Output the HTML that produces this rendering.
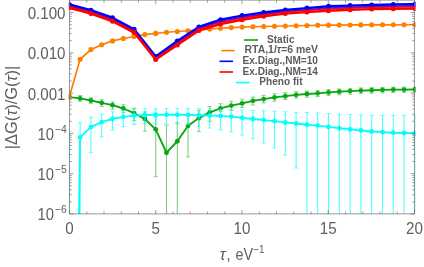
<!DOCTYPE html>
<html><head><meta charset="utf-8"><title>plot</title><style>html,body{margin:0;padding:0;background:#fff}svg{display:block}</style></head><body>
<svg width="424" height="267" viewBox="0 0 424 267">
<rect width="424" height="267" fill="#fff"/>
<defs><clipPath id="c"><rect x="68.8" y="0" width="346.8" height="213.9"/></clipPath></defs>
<g clip-path="url(#c)"><g>
<line x1="80.10" y1="95.55" x2="80.10" y2="101.30" stroke="rgba(8,168,18,0.55)" stroke-width="1.05"/>
<line x1="77.90" y1="95.55" x2="82.30" y2="95.55" stroke="rgba(8,168,18,0.55)" stroke-width="0.8"/>
<line x1="77.90" y1="101.30" x2="82.30" y2="101.30" stroke="rgba(8,168,18,0.55)" stroke-width="0.8"/>
<line x1="90.90" y1="97.80" x2="90.90" y2="103.70" stroke="rgba(8,168,18,0.55)" stroke-width="1.05"/>
<line x1="88.70" y1="97.80" x2="93.10" y2="97.80" stroke="rgba(8,168,18,0.55)" stroke-width="0.8"/>
<line x1="88.70" y1="103.70" x2="93.10" y2="103.70" stroke="rgba(8,168,18,0.55)" stroke-width="0.8"/>
<line x1="101.70" y1="99.70" x2="101.70" y2="106.55" stroke="rgba(8,168,18,0.55)" stroke-width="1.05"/>
<line x1="99.50" y1="99.70" x2="103.90" y2="99.70" stroke="rgba(8,168,18,0.55)" stroke-width="0.8"/>
<line x1="99.50" y1="106.55" x2="103.90" y2="106.55" stroke="rgba(8,168,18,0.55)" stroke-width="0.8"/>
<line x1="112.50" y1="101.80" x2="112.50" y2="109.30" stroke="rgba(8,168,18,0.55)" stroke-width="1.05"/>
<line x1="110.30" y1="101.80" x2="114.70" y2="101.80" stroke="rgba(8,168,18,0.55)" stroke-width="0.8"/>
<line x1="110.30" y1="109.30" x2="114.70" y2="109.30" stroke="rgba(8,168,18,0.55)" stroke-width="0.8"/>
<line x1="123.30" y1="104.75" x2="123.30" y2="112.75" stroke="rgba(8,168,18,0.55)" stroke-width="1.05"/>
<line x1="121.10" y1="104.75" x2="125.50" y2="104.75" stroke="rgba(8,168,18,0.55)" stroke-width="0.8"/>
<line x1="121.10" y1="112.75" x2="125.50" y2="112.75" stroke="rgba(8,168,18,0.55)" stroke-width="0.8"/>
<line x1="134.10" y1="108.10" x2="134.10" y2="120.60" stroke="rgba(8,168,18,0.55)" stroke-width="1.05"/>
<line x1="131.90" y1="108.10" x2="136.30" y2="108.10" stroke="rgba(8,168,18,0.55)" stroke-width="0.8"/>
<line x1="131.90" y1="120.60" x2="136.30" y2="120.60" stroke="rgba(8,168,18,0.55)" stroke-width="0.8"/>
<line x1="144.90" y1="111.90" x2="144.90" y2="131.25" stroke="rgba(8,168,18,0.55)" stroke-width="1.05"/>
<line x1="142.70" y1="111.90" x2="147.10" y2="111.90" stroke="rgba(8,168,18,0.55)" stroke-width="0.8"/>
<line x1="142.70" y1="131.25" x2="147.10" y2="131.25" stroke="rgba(8,168,18,0.55)" stroke-width="0.8"/>
<line x1="155.70" y1="116.90" x2="155.70" y2="176.75" stroke="rgba(8,168,18,0.55)" stroke-width="1.05"/>
<line x1="153.50" y1="116.90" x2="157.90" y2="116.90" stroke="rgba(8,168,18,0.55)" stroke-width="0.8"/>
<line x1="153.50" y1="176.75" x2="157.90" y2="176.75" stroke="rgba(8,168,18,0.55)" stroke-width="0.8"/>
<line x1="166.50" y1="125.20" x2="166.50" y2="215.90" stroke="rgba(8,168,18,0.55)" stroke-width="1.05"/>
<line x1="164.30" y1="125.20" x2="168.70" y2="125.20" stroke="rgba(8,168,18,0.55)" stroke-width="0.8"/>
<line x1="177.30" y1="122.50" x2="177.30" y2="215.90" stroke="rgba(8,168,18,0.55)" stroke-width="1.05"/>
<line x1="175.10" y1="122.50" x2="179.50" y2="122.50" stroke="rgba(8,168,18,0.55)" stroke-width="0.8"/>
<line x1="188.10" y1="115.20" x2="188.10" y2="157.00" stroke="rgba(8,168,18,0.55)" stroke-width="1.05"/>
<line x1="185.90" y1="115.20" x2="190.30" y2="115.20" stroke="rgba(8,168,18,0.55)" stroke-width="0.8"/>
<line x1="185.90" y1="157.00" x2="190.30" y2="157.00" stroke="rgba(8,168,18,0.55)" stroke-width="0.8"/>
<line x1="198.90" y1="110.60" x2="198.90" y2="131.60" stroke="rgba(8,168,18,0.55)" stroke-width="1.05"/>
<line x1="196.70" y1="110.60" x2="201.10" y2="110.60" stroke="rgba(8,168,18,0.55)" stroke-width="0.8"/>
<line x1="196.70" y1="131.60" x2="201.10" y2="131.60" stroke="rgba(8,168,18,0.55)" stroke-width="0.8"/>
<line x1="209.70" y1="106.50" x2="209.70" y2="121.30" stroke="rgba(8,168,18,0.55)" stroke-width="1.05"/>
<line x1="207.50" y1="106.50" x2="211.90" y2="106.50" stroke="rgba(8,168,18,0.55)" stroke-width="0.8"/>
<line x1="207.50" y1="121.30" x2="211.90" y2="121.30" stroke="rgba(8,168,18,0.55)" stroke-width="0.8"/>
<line x1="220.50" y1="103.70" x2="220.50" y2="111.60" stroke="rgba(8,168,18,0.55)" stroke-width="1.05"/>
<line x1="218.30" y1="103.70" x2="222.70" y2="103.70" stroke="rgba(8,168,18,0.55)" stroke-width="0.8"/>
<line x1="218.30" y1="111.60" x2="222.70" y2="111.60" stroke="rgba(8,168,18,0.55)" stroke-width="0.8"/>
<line x1="231.30" y1="101.20" x2="231.30" y2="109.90" stroke="rgba(8,168,18,0.55)" stroke-width="1.05"/>
<line x1="229.10" y1="101.20" x2="233.50" y2="101.20" stroke="rgba(8,168,18,0.55)" stroke-width="0.8"/>
<line x1="229.10" y1="109.90" x2="233.50" y2="109.90" stroke="rgba(8,168,18,0.55)" stroke-width="0.8"/>
<line x1="242.10" y1="99.20" x2="242.10" y2="107.50" stroke="rgba(8,168,18,0.55)" stroke-width="1.05"/>
<line x1="239.90" y1="99.20" x2="244.30" y2="99.20" stroke="rgba(8,168,18,0.55)" stroke-width="0.8"/>
<line x1="239.90" y1="107.50" x2="244.30" y2="107.50" stroke="rgba(8,168,18,0.55)" stroke-width="0.8"/>
<line x1="252.90" y1="96.90" x2="252.90" y2="105.10" stroke="rgba(8,168,18,0.55)" stroke-width="1.05"/>
<line x1="250.70" y1="96.90" x2="255.10" y2="96.90" stroke="rgba(8,168,18,0.55)" stroke-width="0.8"/>
<line x1="250.70" y1="105.10" x2="255.10" y2="105.10" stroke="rgba(8,168,18,0.55)" stroke-width="0.8"/>
<line x1="263.70" y1="95.40" x2="263.70" y2="102.90" stroke="rgba(8,168,18,0.55)" stroke-width="1.05"/>
<line x1="261.50" y1="95.40" x2="265.90" y2="95.40" stroke="rgba(8,168,18,0.55)" stroke-width="0.8"/>
<line x1="261.50" y1="102.90" x2="265.90" y2="102.90" stroke="rgba(8,168,18,0.55)" stroke-width="0.8"/>
<line x1="274.50" y1="93.70" x2="274.50" y2="101.20" stroke="rgba(8,168,18,0.55)" stroke-width="1.05"/>
<line x1="272.30" y1="93.70" x2="276.70" y2="93.70" stroke="rgba(8,168,18,0.55)" stroke-width="0.8"/>
<line x1="272.30" y1="101.20" x2="276.70" y2="101.20" stroke="rgba(8,168,18,0.55)" stroke-width="0.8"/>
<line x1="285.30" y1="92.70" x2="285.30" y2="99.60" stroke="rgba(8,168,18,0.55)" stroke-width="1.05"/>
<line x1="283.10" y1="92.70" x2="287.50" y2="92.70" stroke="rgba(8,168,18,0.55)" stroke-width="0.8"/>
<line x1="283.10" y1="99.60" x2="287.50" y2="99.60" stroke="rgba(8,168,18,0.55)" stroke-width="0.8"/>
<line x1="296.10" y1="91.60" x2="296.10" y2="98.20" stroke="rgba(8,168,18,0.55)" stroke-width="1.05"/>
<line x1="293.90" y1="91.60" x2="298.30" y2="91.60" stroke="rgba(8,168,18,0.55)" stroke-width="0.8"/>
<line x1="293.90" y1="98.20" x2="298.30" y2="98.20" stroke="rgba(8,168,18,0.55)" stroke-width="0.8"/>
<line x1="306.90" y1="91.10" x2="306.90" y2="97.30" stroke="rgba(8,168,18,0.55)" stroke-width="1.05"/>
<line x1="304.70" y1="91.10" x2="309.10" y2="91.10" stroke="rgba(8,168,18,0.55)" stroke-width="0.8"/>
<line x1="304.70" y1="97.30" x2="309.10" y2="97.30" stroke="rgba(8,168,18,0.55)" stroke-width="0.8"/>
<line x1="317.70" y1="90.44" x2="317.70" y2="96.55" stroke="rgba(8,168,18,0.55)" stroke-width="1.05"/>
<line x1="315.50" y1="90.44" x2="319.90" y2="90.44" stroke="rgba(8,168,18,0.55)" stroke-width="0.8"/>
<line x1="315.50" y1="96.55" x2="319.90" y2="96.55" stroke="rgba(8,168,18,0.55)" stroke-width="0.8"/>
<line x1="328.50" y1="89.58" x2="328.50" y2="95.60" stroke="rgba(8,168,18,0.55)" stroke-width="1.05"/>
<line x1="326.30" y1="89.58" x2="330.70" y2="89.58" stroke="rgba(8,168,18,0.55)" stroke-width="0.8"/>
<line x1="326.30" y1="95.60" x2="330.70" y2="95.60" stroke="rgba(8,168,18,0.55)" stroke-width="0.8"/>
<line x1="339.30" y1="88.92" x2="339.30" y2="94.85" stroke="rgba(8,168,18,0.55)" stroke-width="1.05"/>
<line x1="337.10" y1="88.92" x2="341.50" y2="88.92" stroke="rgba(8,168,18,0.55)" stroke-width="0.8"/>
<line x1="337.10" y1="94.85" x2="341.50" y2="94.85" stroke="rgba(8,168,18,0.55)" stroke-width="0.8"/>
<line x1="350.10" y1="88.36" x2="350.10" y2="94.20" stroke="rgba(8,168,18,0.55)" stroke-width="1.05"/>
<line x1="347.90" y1="88.36" x2="352.30" y2="88.36" stroke="rgba(8,168,18,0.55)" stroke-width="0.8"/>
<line x1="347.90" y1="94.20" x2="352.30" y2="94.20" stroke="rgba(8,168,18,0.55)" stroke-width="0.8"/>
<line x1="360.90" y1="87.85" x2="360.90" y2="93.60" stroke="rgba(8,168,18,0.55)" stroke-width="1.05"/>
<line x1="358.70" y1="87.85" x2="363.10" y2="87.85" stroke="rgba(8,168,18,0.55)" stroke-width="0.8"/>
<line x1="358.70" y1="93.60" x2="363.10" y2="93.60" stroke="rgba(8,168,18,0.55)" stroke-width="0.8"/>
<line x1="371.70" y1="87.59" x2="371.70" y2="93.25" stroke="rgba(8,168,18,0.55)" stroke-width="1.05"/>
<line x1="369.50" y1="87.59" x2="373.90" y2="87.59" stroke="rgba(8,168,18,0.55)" stroke-width="0.8"/>
<line x1="369.50" y1="93.25" x2="373.90" y2="93.25" stroke="rgba(8,168,18,0.55)" stroke-width="0.8"/>
<line x1="382.50" y1="87.33" x2="382.50" y2="92.90" stroke="rgba(8,168,18,0.55)" stroke-width="1.05"/>
<line x1="380.30" y1="87.33" x2="384.70" y2="87.33" stroke="rgba(8,168,18,0.55)" stroke-width="0.8"/>
<line x1="380.30" y1="92.90" x2="384.70" y2="92.90" stroke="rgba(8,168,18,0.55)" stroke-width="0.8"/>
<line x1="393.30" y1="87.12" x2="393.30" y2="92.60" stroke="rgba(8,168,18,0.55)" stroke-width="1.05"/>
<line x1="391.10" y1="87.12" x2="395.50" y2="87.12" stroke="rgba(8,168,18,0.55)" stroke-width="0.8"/>
<line x1="391.10" y1="92.60" x2="395.50" y2="92.60" stroke="rgba(8,168,18,0.55)" stroke-width="0.8"/>
<line x1="404.10" y1="87.06" x2="404.10" y2="92.45" stroke="rgba(8,168,18,0.55)" stroke-width="1.05"/>
<line x1="401.90" y1="87.06" x2="406.30" y2="87.06" stroke="rgba(8,168,18,0.55)" stroke-width="0.8"/>
<line x1="401.90" y1="92.45" x2="406.30" y2="92.45" stroke="rgba(8,168,18,0.55)" stroke-width="0.8"/>
<line x1="414.90" y1="87.00" x2="414.90" y2="92.30" stroke="rgba(8,168,18,0.55)" stroke-width="1.05"/>
<line x1="412.70" y1="87.00" x2="417.10" y2="87.00" stroke="rgba(8,168,18,0.55)" stroke-width="0.8"/>
<line x1="412.70" y1="92.30" x2="417.10" y2="92.30" stroke="rgba(8,168,18,0.55)" stroke-width="0.8"/>
<polyline points="69.30,97.10 80.10,98.40 90.90,100.50 101.70,102.80 112.50,105.20 123.30,108.50 134.10,113.10 144.90,119.00 155.70,129.30 166.50,152.75 177.30,141.25 188.10,125.80 198.90,118.10 209.70,112.35 220.50,108.30 231.30,105.60 242.10,103.40 252.90,100.80 263.70,99.05 274.50,97.45 285.30,96.20 296.10,94.90 306.90,94.00 317.70,93.30 328.50,92.40 339.30,91.70 350.10,91.10 360.90,90.55 371.70,90.25 382.50,89.95 393.30,89.70 404.10,89.60 414.90,89.50" fill="none" stroke="#08a812" stroke-width="1.85" stroke-linejoin="round"/>
<circle cx="69.30" cy="97.10" r="2.4" fill="#08a812"/>
<circle cx="80.10" cy="98.40" r="2.4" fill="#08a812"/>
<circle cx="90.90" cy="100.50" r="2.4" fill="#08a812"/>
<circle cx="101.70" cy="102.80" r="2.4" fill="#08a812"/>
<circle cx="112.50" cy="105.20" r="2.4" fill="#08a812"/>
<circle cx="123.30" cy="108.50" r="2.4" fill="#08a812"/>
<circle cx="134.10" cy="113.10" r="2.4" fill="#08a812"/>
<circle cx="144.90" cy="119.00" r="2.4" fill="#08a812"/>
<circle cx="155.70" cy="129.30" r="2.4" fill="#08a812"/>
<circle cx="166.50" cy="152.75" r="2.4" fill="#08a812"/>
<circle cx="177.30" cy="141.25" r="2.4" fill="#08a812"/>
<circle cx="188.10" cy="125.80" r="2.4" fill="#08a812"/>
<circle cx="198.90" cy="118.10" r="2.4" fill="#08a812"/>
<circle cx="209.70" cy="112.35" r="2.4" fill="#08a812"/>
<circle cx="220.50" cy="108.30" r="2.4" fill="#08a812"/>
<circle cx="231.30" cy="105.60" r="2.4" fill="#08a812"/>
<circle cx="242.10" cy="103.40" r="2.4" fill="#08a812"/>
<circle cx="252.90" cy="100.80" r="2.4" fill="#08a812"/>
<circle cx="263.70" cy="99.05" r="2.4" fill="#08a812"/>
<circle cx="274.50" cy="97.45" r="2.4" fill="#08a812"/>
<circle cx="285.30" cy="96.20" r="2.4" fill="#08a812"/>
<circle cx="296.10" cy="94.90" r="2.4" fill="#08a812"/>
<circle cx="306.90" cy="94.00" r="2.4" fill="#08a812"/>
<circle cx="317.70" cy="93.30" r="2.4" fill="#08a812"/>
<circle cx="328.50" cy="92.40" r="2.4" fill="#08a812"/>
<circle cx="339.30" cy="91.70" r="2.4" fill="#08a812"/>
<circle cx="350.10" cy="91.10" r="2.4" fill="#08a812"/>
<circle cx="360.90" cy="90.55" r="2.4" fill="#08a812"/>
<circle cx="371.70" cy="90.25" r="2.4" fill="#08a812"/>
<circle cx="382.50" cy="89.95" r="2.4" fill="#08a812"/>
<circle cx="393.30" cy="89.70" r="2.4" fill="#08a812"/>
<circle cx="404.10" cy="89.60" r="2.4" fill="#08a812"/>
<circle cx="414.90" cy="89.50" r="2.4" fill="#08a812"/>
<polyline points="69.30,97.00 80.10,59.25 90.90,49.60 101.70,44.80 112.50,40.90 123.30,38.50 134.10,36.50 144.90,34.60 155.70,33.40 166.50,32.25 177.30,31.50 188.10,30.75 198.90,30.00 209.70,29.10 220.50,28.25 231.30,27.60 242.10,27.10 252.90,26.75 263.70,26.50 274.50,26.25 285.30,26.00 296.10,25.75 306.90,25.50 317.70,25.30 328.50,25.15 339.30,25.05 350.10,24.95 360.90,24.90 371.70,24.85 382.50,24.80 393.30,24.78 404.10,24.76 414.90,24.75" fill="none" stroke="#ff8000" stroke-width="1.7" stroke-linejoin="round"/>
<circle cx="69.30" cy="97.00" r="2.55" fill="#ff8000"/>
<circle cx="80.10" cy="59.25" r="2.55" fill="#ff8000"/>
<circle cx="90.90" cy="49.60" r="2.55" fill="#ff8000"/>
<circle cx="101.70" cy="44.80" r="2.55" fill="#ff8000"/>
<circle cx="112.50" cy="40.90" r="2.55" fill="#ff8000"/>
<circle cx="123.30" cy="38.50" r="2.55" fill="#ff8000"/>
<circle cx="134.10" cy="36.50" r="2.55" fill="#ff8000"/>
<circle cx="144.90" cy="34.60" r="2.55" fill="#ff8000"/>
<circle cx="155.70" cy="33.40" r="2.55" fill="#ff8000"/>
<circle cx="166.50" cy="32.25" r="2.55" fill="#ff8000"/>
<circle cx="177.30" cy="31.50" r="2.55" fill="#ff8000"/>
<circle cx="188.10" cy="30.75" r="2.55" fill="#ff8000"/>
<circle cx="198.90" cy="30.00" r="2.55" fill="#ff8000"/>
<circle cx="209.70" cy="29.10" r="2.55" fill="#ff8000"/>
<circle cx="220.50" cy="28.25" r="2.55" fill="#ff8000"/>
<circle cx="231.30" cy="27.60" r="2.55" fill="#ff8000"/>
<circle cx="242.10" cy="27.10" r="2.55" fill="#ff8000"/>
<circle cx="252.90" cy="26.75" r="2.55" fill="#ff8000"/>
<circle cx="263.70" cy="26.50" r="2.55" fill="#ff8000"/>
<circle cx="274.50" cy="26.25" r="2.55" fill="#ff8000"/>
<circle cx="285.30" cy="26.00" r="2.55" fill="#ff8000"/>
<circle cx="296.10" cy="25.75" r="2.55" fill="#ff8000"/>
<circle cx="306.90" cy="25.50" r="2.55" fill="#ff8000"/>
<circle cx="317.70" cy="25.30" r="2.55" fill="#ff8000"/>
<circle cx="328.50" cy="25.15" r="2.55" fill="#ff8000"/>
<circle cx="339.30" cy="25.05" r="2.55" fill="#ff8000"/>
<circle cx="350.10" cy="24.95" r="2.55" fill="#ff8000"/>
<circle cx="360.90" cy="24.90" r="2.55" fill="#ff8000"/>
<circle cx="371.70" cy="24.85" r="2.55" fill="#ff8000"/>
<circle cx="382.50" cy="24.80" r="2.55" fill="#ff8000"/>
<circle cx="393.30" cy="24.78" r="2.55" fill="#ff8000"/>
<circle cx="404.10" cy="24.76" r="2.55" fill="#ff8000"/>
<circle cx="414.90" cy="24.75" r="2.55" fill="#ff8000"/>
<polyline points="69.30,4.40 90.90,10.25 112.50,17.75 134.10,29.20 155.70,56.50 177.30,41.00 198.90,26.90 220.50,19.75 242.10,15.60 263.70,12.50 285.30,10.00 306.90,8.10 328.50,6.30 350.10,5.60 371.70,5.00 393.30,4.50 414.90,4.20" fill="none" stroke="#0000ff" stroke-width="2.4" stroke-linejoin="round"/>
<circle cx="69.30" cy="4.40" r="2.5" fill="#0000ff"/>
<circle cx="90.90" cy="10.25" r="2.5" fill="#0000ff"/>
<circle cx="112.50" cy="17.75" r="2.5" fill="#0000ff"/>
<circle cx="134.10" cy="29.20" r="2.5" fill="#0000ff"/>
<circle cx="155.70" cy="56.50" r="2.5" fill="#0000ff"/>
<circle cx="177.30" cy="41.00" r="2.5" fill="#0000ff"/>
<circle cx="198.90" cy="26.90" r="2.5" fill="#0000ff"/>
<circle cx="220.50" cy="19.75" r="2.5" fill="#0000ff"/>
<circle cx="242.10" cy="15.60" r="2.5" fill="#0000ff"/>
<circle cx="263.70" cy="12.50" r="2.5" fill="#0000ff"/>
<circle cx="285.30" cy="10.00" r="2.5" fill="#0000ff"/>
<circle cx="306.90" cy="8.10" r="2.5" fill="#0000ff"/>
<circle cx="328.50" cy="6.30" r="2.5" fill="#0000ff"/>
<circle cx="350.10" cy="5.60" r="2.5" fill="#0000ff"/>
<circle cx="371.70" cy="5.00" r="2.5" fill="#0000ff"/>
<circle cx="393.30" cy="4.50" r="2.5" fill="#0000ff"/>
<circle cx="414.90" cy="4.20" r="2.5" fill="#0000ff"/>
<polyline points="69.30,5.72 90.90,11.56 112.50,19.09 134.10,30.52 155.70,57.78 177.30,42.41 198.90,28.26 220.50,21.18 242.10,17.03 263.70,13.86 285.30,11.35 306.90,9.49 328.50,7.75 350.10,7.01 371.70,6.41 393.30,5.93 414.90,5.64" fill="none" stroke="rgb(32,0,223)" stroke-width="0.8" stroke-linejoin="round"/>
<polyline points="69.30,5.96 90.90,11.77 112.50,19.38 134.10,30.77 155.70,57.93 177.30,42.84 198.90,28.59 220.50,21.64 242.10,17.48 263.70,14.19 285.30,11.65 306.90,9.86 328.50,8.25 350.10,7.44 371.70,6.84 393.30,6.39 414.90,6.11" fill="none" stroke="rgb(96,0,159)" stroke-width="0.8" stroke-linejoin="round"/>
<polyline points="69.30,6.19 90.90,11.98 112.50,19.67 134.10,31.02 155.70,58.08 177.30,43.26 198.90,28.91 220.50,22.11 242.10,17.93 263.70,14.51 285.30,11.95 306.90,10.24 328.50,8.75 350.10,7.86 371.70,7.26 393.30,6.86 414.90,6.59" fill="none" stroke="rgb(159,0,96)" stroke-width="0.8" stroke-linejoin="round"/>
<polyline points="69.30,6.43 90.90,12.19 112.50,19.96 134.10,31.28 155.70,58.23 177.30,43.69 198.90,29.24 220.50,22.57 242.10,18.38 263.70,14.84 285.30,12.25 306.90,10.61 328.50,9.25 350.10,8.29 371.70,7.69 393.30,7.32 414.90,7.06" fill="none" stroke="rgb(223,0,32)" stroke-width="0.8" stroke-linejoin="round"/>
<polyline points="69.30,7.75 90.90,13.50 112.50,21.30 134.10,32.60 155.70,59.50 177.30,45.10 198.90,30.60 220.50,24.00 242.10,19.80 263.70,16.20 285.30,13.60 306.90,12.00 328.50,10.70 350.10,9.70 371.70,9.10 393.30,8.75 414.90,8.50" fill="none" stroke="#ff0000" stroke-width="2.4" stroke-linejoin="round"/>
<circle cx="69.30" cy="7.75" r="2.5" fill="#ff0000"/>
<circle cx="90.90" cy="13.50" r="2.5" fill="#ff0000"/>
<circle cx="112.50" cy="21.30" r="2.5" fill="#ff0000"/>
<circle cx="134.10" cy="32.60" r="2.5" fill="#ff0000"/>
<circle cx="155.70" cy="59.50" r="2.5" fill="#ff0000"/>
<circle cx="177.30" cy="45.10" r="2.5" fill="#ff0000"/>
<circle cx="198.90" cy="30.60" r="2.5" fill="#ff0000"/>
<circle cx="220.50" cy="24.00" r="2.5" fill="#ff0000"/>
<circle cx="242.10" cy="19.80" r="2.5" fill="#ff0000"/>
<circle cx="263.70" cy="16.20" r="2.5" fill="#ff0000"/>
<circle cx="285.30" cy="13.60" r="2.5" fill="#ff0000"/>
<circle cx="306.90" cy="12.00" r="2.5" fill="#ff0000"/>
<circle cx="328.50" cy="10.70" r="2.5" fill="#ff0000"/>
<circle cx="350.10" cy="9.70" r="2.5" fill="#ff0000"/>
<circle cx="371.70" cy="9.10" r="2.5" fill="#ff0000"/>
<circle cx="393.30" cy="8.75" r="2.5" fill="#ff0000"/>
<circle cx="414.90" cy="8.50" r="2.5" fill="#ff0000"/>
<line x1="69.30" y1="131.00" x2="69.30" y2="215.90" stroke="rgba(0,255,255,0.7)" stroke-width="1.1"/>
<line x1="67.10" y1="131.00" x2="71.50" y2="131.00" stroke="rgba(0,255,255,0.7)" stroke-width="0.8"/>
<line x1="80.10" y1="122.40" x2="80.10" y2="215.90" stroke="rgba(0,255,255,0.7)" stroke-width="1.1"/>
<line x1="77.90" y1="122.40" x2="82.30" y2="122.40" stroke="rgba(0,255,255,0.7)" stroke-width="0.8"/>
<line x1="90.90" y1="117.10" x2="90.90" y2="152.75" stroke="rgba(0,255,255,0.7)" stroke-width="1.1"/>
<line x1="88.70" y1="117.10" x2="93.10" y2="117.10" stroke="rgba(0,255,255,0.7)" stroke-width="0.8"/>
<line x1="88.70" y1="152.75" x2="93.10" y2="152.75" stroke="rgba(0,255,255,0.7)" stroke-width="0.8"/>
<line x1="101.70" y1="114.25" x2="101.70" y2="136.90" stroke="rgba(0,255,255,0.7)" stroke-width="1.1"/>
<line x1="99.50" y1="114.25" x2="103.90" y2="114.25" stroke="rgba(0,255,255,0.7)" stroke-width="0.8"/>
<line x1="99.50" y1="136.90" x2="103.90" y2="136.90" stroke="rgba(0,255,255,0.7)" stroke-width="0.8"/>
<line x1="112.50" y1="111.80" x2="112.50" y2="130.10" stroke="rgba(0,255,255,0.7)" stroke-width="1.1"/>
<line x1="110.30" y1="111.80" x2="114.70" y2="111.80" stroke="rgba(0,255,255,0.7)" stroke-width="0.8"/>
<line x1="110.30" y1="130.10" x2="114.70" y2="130.10" stroke="rgba(0,255,255,0.7)" stroke-width="0.8"/>
<line x1="123.30" y1="110.30" x2="123.30" y2="126.50" stroke="rgba(0,255,255,0.7)" stroke-width="1.1"/>
<line x1="121.10" y1="110.30" x2="125.50" y2="110.30" stroke="rgba(0,255,255,0.7)" stroke-width="0.8"/>
<line x1="121.10" y1="126.50" x2="125.50" y2="126.50" stroke="rgba(0,255,255,0.7)" stroke-width="0.8"/>
<line x1="134.10" y1="109.00" x2="134.10" y2="124.40" stroke="rgba(0,255,255,0.7)" stroke-width="1.1"/>
<line x1="131.90" y1="109.00" x2="136.30" y2="109.00" stroke="rgba(0,255,255,0.7)" stroke-width="0.8"/>
<line x1="131.90" y1="124.40" x2="136.30" y2="124.40" stroke="rgba(0,255,255,0.7)" stroke-width="0.8"/>
<line x1="144.90" y1="108.80" x2="144.90" y2="123.50" stroke="rgba(0,255,255,0.7)" stroke-width="1.1"/>
<line x1="142.70" y1="108.80" x2="147.10" y2="108.80" stroke="rgba(0,255,255,0.7)" stroke-width="0.8"/>
<line x1="142.70" y1="123.50" x2="147.10" y2="123.50" stroke="rgba(0,255,255,0.7)" stroke-width="0.8"/>
<line x1="155.70" y1="108.70" x2="155.70" y2="123.40" stroke="rgba(0,255,255,0.7)" stroke-width="1.1"/>
<line x1="153.50" y1="108.70" x2="157.90" y2="108.70" stroke="rgba(0,255,255,0.7)" stroke-width="0.8"/>
<line x1="153.50" y1="123.40" x2="157.90" y2="123.40" stroke="rgba(0,255,255,0.7)" stroke-width="0.8"/>
<line x1="166.50" y1="108.50" x2="166.50" y2="123.50" stroke="rgba(0,255,255,0.7)" stroke-width="1.1"/>
<line x1="164.30" y1="108.50" x2="168.70" y2="108.50" stroke="rgba(0,255,255,0.7)" stroke-width="0.8"/>
<line x1="164.30" y1="123.50" x2="168.70" y2="123.50" stroke="rgba(0,255,255,0.7)" stroke-width="0.8"/>
<line x1="177.30" y1="108.50" x2="177.30" y2="124.20" stroke="rgba(0,255,255,0.7)" stroke-width="1.1"/>
<line x1="175.10" y1="108.50" x2="179.50" y2="108.50" stroke="rgba(0,255,255,0.7)" stroke-width="0.8"/>
<line x1="175.10" y1="124.20" x2="179.50" y2="124.20" stroke="rgba(0,255,255,0.7)" stroke-width="0.8"/>
<line x1="188.10" y1="108.50" x2="188.10" y2="124.75" stroke="rgba(0,255,255,0.7)" stroke-width="1.1"/>
<line x1="185.90" y1="108.50" x2="190.30" y2="108.50" stroke="rgba(0,255,255,0.7)" stroke-width="0.8"/>
<line x1="185.90" y1="124.75" x2="190.30" y2="124.75" stroke="rgba(0,255,255,0.7)" stroke-width="0.8"/>
<line x1="198.90" y1="108.50" x2="198.90" y2="126.50" stroke="rgba(0,255,255,0.7)" stroke-width="1.1"/>
<line x1="196.70" y1="108.50" x2="201.10" y2="108.50" stroke="rgba(0,255,255,0.7)" stroke-width="0.8"/>
<line x1="196.70" y1="126.50" x2="201.10" y2="126.50" stroke="rgba(0,255,255,0.7)" stroke-width="0.8"/>
<line x1="209.70" y1="108.60" x2="209.70" y2="128.10" stroke="rgba(0,255,255,0.7)" stroke-width="1.1"/>
<line x1="207.50" y1="108.60" x2="211.90" y2="108.60" stroke="rgba(0,255,255,0.7)" stroke-width="0.8"/>
<line x1="207.50" y1="128.10" x2="211.90" y2="128.10" stroke="rgba(0,255,255,0.7)" stroke-width="0.8"/>
<line x1="220.50" y1="109.30" x2="220.50" y2="130.00" stroke="rgba(0,255,255,0.7)" stroke-width="1.1"/>
<line x1="218.30" y1="109.30" x2="222.70" y2="109.30" stroke="rgba(0,255,255,0.7)" stroke-width="0.8"/>
<line x1="218.30" y1="130.00" x2="222.70" y2="130.00" stroke="rgba(0,255,255,0.7)" stroke-width="0.8"/>
<line x1="231.30" y1="110.30" x2="231.30" y2="132.00" stroke="rgba(0,255,255,0.7)" stroke-width="1.1"/>
<line x1="229.10" y1="110.30" x2="233.50" y2="110.30" stroke="rgba(0,255,255,0.7)" stroke-width="0.8"/>
<line x1="229.10" y1="132.00" x2="233.50" y2="132.00" stroke="rgba(0,255,255,0.7)" stroke-width="0.8"/>
<line x1="242.10" y1="110.00" x2="242.10" y2="135.00" stroke="rgba(0,255,255,0.7)" stroke-width="1.1"/>
<line x1="239.90" y1="110.00" x2="244.30" y2="110.00" stroke="rgba(0,255,255,0.7)" stroke-width="0.8"/>
<line x1="239.90" y1="135.00" x2="244.30" y2="135.00" stroke="rgba(0,255,255,0.7)" stroke-width="0.8"/>
<line x1="252.90" y1="110.40" x2="252.90" y2="138.75" stroke="rgba(0,255,255,0.7)" stroke-width="1.1"/>
<line x1="250.70" y1="110.40" x2="255.10" y2="110.40" stroke="rgba(0,255,255,0.7)" stroke-width="0.8"/>
<line x1="250.70" y1="138.75" x2="255.10" y2="138.75" stroke="rgba(0,255,255,0.7)" stroke-width="0.8"/>
<line x1="263.70" y1="110.70" x2="263.70" y2="143.00" stroke="rgba(0,255,255,0.7)" stroke-width="1.1"/>
<line x1="261.50" y1="110.70" x2="265.90" y2="110.70" stroke="rgba(0,255,255,0.7)" stroke-width="0.8"/>
<line x1="261.50" y1="143.00" x2="265.90" y2="143.00" stroke="rgba(0,255,255,0.7)" stroke-width="0.8"/>
<line x1="274.50" y1="111.25" x2="274.50" y2="148.00" stroke="rgba(0,255,255,0.7)" stroke-width="1.1"/>
<line x1="272.30" y1="111.25" x2="276.70" y2="111.25" stroke="rgba(0,255,255,0.7)" stroke-width="0.8"/>
<line x1="272.30" y1="148.00" x2="276.70" y2="148.00" stroke="rgba(0,255,255,0.7)" stroke-width="0.8"/>
<line x1="285.30" y1="111.80" x2="285.30" y2="155.00" stroke="rgba(0,255,255,0.7)" stroke-width="1.1"/>
<line x1="283.10" y1="111.80" x2="287.50" y2="111.80" stroke="rgba(0,255,255,0.7)" stroke-width="0.8"/>
<line x1="283.10" y1="155.00" x2="287.50" y2="155.00" stroke="rgba(0,255,255,0.7)" stroke-width="0.8"/>
<line x1="296.10" y1="112.40" x2="296.10" y2="168.00" stroke="rgba(0,255,255,0.7)" stroke-width="1.1"/>
<line x1="293.90" y1="112.40" x2="298.30" y2="112.40" stroke="rgba(0,255,255,0.7)" stroke-width="0.8"/>
<line x1="293.90" y1="168.00" x2="298.30" y2="168.00" stroke="rgba(0,255,255,0.7)" stroke-width="0.8"/>
<line x1="306.90" y1="112.50" x2="306.90" y2="215.90" stroke="rgba(0,255,255,0.7)" stroke-width="1.1"/>
<line x1="304.70" y1="112.50" x2="309.10" y2="112.50" stroke="rgba(0,255,255,0.7)" stroke-width="0.8"/>
<line x1="317.70" y1="113.00" x2="317.70" y2="215.90" stroke="rgba(0,255,255,0.7)" stroke-width="1.1"/>
<line x1="315.50" y1="113.00" x2="319.90" y2="113.00" stroke="rgba(0,255,255,0.7)" stroke-width="0.8"/>
<line x1="328.50" y1="113.50" x2="328.50" y2="215.90" stroke="rgba(0,255,255,0.7)" stroke-width="1.1"/>
<line x1="326.30" y1="113.50" x2="330.70" y2="113.50" stroke="rgba(0,255,255,0.7)" stroke-width="0.8"/>
<line x1="339.30" y1="114.00" x2="339.30" y2="215.90" stroke="rgba(0,255,255,0.7)" stroke-width="1.1"/>
<line x1="337.10" y1="114.00" x2="341.50" y2="114.00" stroke="rgba(0,255,255,0.7)" stroke-width="0.8"/>
<line x1="350.10" y1="114.50" x2="350.10" y2="215.90" stroke="rgba(0,255,255,0.7)" stroke-width="1.1"/>
<line x1="347.90" y1="114.50" x2="352.30" y2="114.50" stroke="rgba(0,255,255,0.7)" stroke-width="0.8"/>
<line x1="360.90" y1="114.90" x2="360.90" y2="215.90" stroke="rgba(0,255,255,0.7)" stroke-width="1.1"/>
<line x1="358.70" y1="114.90" x2="363.10" y2="114.90" stroke="rgba(0,255,255,0.7)" stroke-width="0.8"/>
<line x1="371.70" y1="115.20" x2="371.70" y2="215.90" stroke="rgba(0,255,255,0.7)" stroke-width="1.1"/>
<line x1="369.50" y1="115.20" x2="373.90" y2="115.20" stroke="rgba(0,255,255,0.7)" stroke-width="0.8"/>
<line x1="382.50" y1="115.25" x2="382.50" y2="215.90" stroke="rgba(0,255,255,0.7)" stroke-width="1.1"/>
<line x1="380.30" y1="115.25" x2="384.70" y2="115.25" stroke="rgba(0,255,255,0.7)" stroke-width="0.8"/>
<line x1="393.30" y1="115.25" x2="393.30" y2="215.90" stroke="rgba(0,255,255,0.7)" stroke-width="1.1"/>
<line x1="391.10" y1="115.25" x2="395.50" y2="115.25" stroke="rgba(0,255,255,0.7)" stroke-width="0.8"/>
<line x1="404.10" y1="115.25" x2="404.10" y2="215.90" stroke="rgba(0,255,255,0.7)" stroke-width="1.1"/>
<line x1="401.90" y1="115.25" x2="406.30" y2="115.25" stroke="rgba(0,255,255,0.7)" stroke-width="0.8"/>
<line x1="414.90" y1="115.25" x2="414.90" y2="215.90" stroke="rgba(0,255,255,0.7)" stroke-width="1.1"/>
<line x1="412.70" y1="115.25" x2="417.10" y2="115.25" stroke="rgba(0,255,255,0.7)" stroke-width="0.8"/>
<polyline points="79.00,216.90 80.10,137.30 90.90,127.10 101.70,122.10 112.50,118.90 123.30,116.90 134.10,115.60 144.90,115.00 155.70,114.75 166.50,114.75 177.30,114.75 188.10,114.90 198.90,115.25 209.70,115.60 220.50,115.90 231.30,116.60 242.10,117.80 252.90,119.00 263.70,120.10 274.50,121.20 285.30,122.40 296.10,123.50 306.90,124.75 317.70,125.60 328.50,126.90 339.30,128.10 350.10,129.40 360.90,130.50 371.70,131.50 382.50,132.10 393.30,132.75 404.10,133.00 414.90,133.25" fill="none" stroke="#00ffff" stroke-width="1.85" stroke-linejoin="round"/>
<circle cx="79.00" cy="216.90" r="2.4" fill="#00ffff"/>
<circle cx="80.10" cy="137.30" r="2.4" fill="#00ffff"/>
<circle cx="90.90" cy="127.10" r="2.4" fill="#00ffff"/>
<circle cx="101.70" cy="122.10" r="2.4" fill="#00ffff"/>
<circle cx="112.50" cy="118.90" r="2.4" fill="#00ffff"/>
<circle cx="123.30" cy="116.90" r="2.4" fill="#00ffff"/>
<circle cx="134.10" cy="115.60" r="2.4" fill="#00ffff"/>
<circle cx="144.90" cy="115.00" r="2.4" fill="#00ffff"/>
<circle cx="155.70" cy="114.75" r="2.4" fill="#00ffff"/>
<circle cx="166.50" cy="114.75" r="2.4" fill="#00ffff"/>
<circle cx="177.30" cy="114.75" r="2.4" fill="#00ffff"/>
<circle cx="188.10" cy="114.90" r="2.4" fill="#00ffff"/>
<circle cx="198.90" cy="115.25" r="2.4" fill="#00ffff"/>
<circle cx="209.70" cy="115.60" r="2.4" fill="#00ffff"/>
<circle cx="220.50" cy="115.90" r="2.4" fill="#00ffff"/>
<circle cx="231.30" cy="116.60" r="2.4" fill="#00ffff"/>
<circle cx="242.10" cy="117.80" r="2.4" fill="#00ffff"/>
<circle cx="252.90" cy="119.00" r="2.4" fill="#00ffff"/>
<circle cx="263.70" cy="120.10" r="2.4" fill="#00ffff"/>
<circle cx="274.50" cy="121.20" r="2.4" fill="#00ffff"/>
<circle cx="285.30" cy="122.40" r="2.4" fill="#00ffff"/>
<circle cx="296.10" cy="123.50" r="2.4" fill="#00ffff"/>
<circle cx="306.90" cy="124.75" r="2.4" fill="#00ffff"/>
<circle cx="317.70" cy="125.60" r="2.4" fill="#00ffff"/>
<circle cx="328.50" cy="126.90" r="2.4" fill="#00ffff"/>
<circle cx="339.30" cy="128.10" r="2.4" fill="#00ffff"/>
<circle cx="350.10" cy="129.40" r="2.4" fill="#00ffff"/>
<circle cx="360.90" cy="130.50" r="2.4" fill="#00ffff"/>
<circle cx="371.70" cy="131.50" r="2.4" fill="#00ffff"/>
<circle cx="382.50" cy="132.10" r="2.4" fill="#00ffff"/>
<circle cx="393.30" cy="132.75" r="2.4" fill="#00ffff"/>
<circle cx="404.10" cy="133.00" r="2.4" fill="#00ffff"/>
<circle cx="414.90" cy="133.25" r="2.4" fill="#00ffff"/>
</g></g>
<g stroke="#6e6e6e" stroke-width="0.7" fill="none">
<path d="M69.5 0 V213.9 H414.5 V0"/>
<path d="M69.5 0.3 H414.5" stroke="#8a8a8a"/>
<path d="M69.50 213.9 v-3.8 M69.50 0.4 v3.8"/>
<path d="M86.75 213.9 v-2.3 M86.75 0.4 v2.3"/>
<path d="M104.00 213.9 v-2.3 M104.00 0.4 v2.3"/>
<path d="M121.25 213.9 v-2.3 M121.25 0.4 v2.3"/>
<path d="M138.50 213.9 v-2.3 M138.50 0.4 v2.3"/>
<path d="M155.75 213.9 v-3.8 M155.75 0.4 v3.8"/>
<path d="M173.00 213.9 v-2.3 M173.00 0.4 v2.3"/>
<path d="M190.25 213.9 v-2.3 M190.25 0.4 v2.3"/>
<path d="M207.50 213.9 v-2.3 M207.50 0.4 v2.3"/>
<path d="M224.75 213.9 v-2.3 M224.75 0.4 v2.3"/>
<path d="M242.00 213.9 v-3.8 M242.00 0.4 v3.8"/>
<path d="M259.25 213.9 v-2.3 M259.25 0.4 v2.3"/>
<path d="M276.50 213.9 v-2.3 M276.50 0.4 v2.3"/>
<path d="M293.75 213.9 v-2.3 M293.75 0.4 v2.3"/>
<path d="M311.00 213.9 v-2.3 M311.00 0.4 v2.3"/>
<path d="M328.25 213.9 v-3.8 M328.25 0.4 v3.8"/>
<path d="M345.50 213.9 v-2.3 M345.50 0.4 v2.3"/>
<path d="M362.75 213.9 v-2.3 M362.75 0.4 v2.3"/>
<path d="M380.00 213.9 v-2.3 M380.00 0.4 v2.3"/>
<path d="M397.25 213.9 v-2.3 M397.25 0.4 v2.3"/>
<path d="M414.50 213.9 v-3.8 M414.50 0.4 v3.8"/>
<path d="M69.5 214.00 h3.8 M414.5 214.00 h-3.8"/>
<path d="M69.5 201.87 h2.2 M414.5 201.87 h-2.2"/>
<path d="M69.5 194.77 h2.2 M414.5 194.77 h-2.2"/>
<path d="M69.5 189.74 h2.2 M414.5 189.74 h-2.2"/>
<path d="M69.5 185.83 h2.2 M414.5 185.83 h-2.2"/>
<path d="M69.5 182.64 h2.2 M414.5 182.64 h-2.2"/>
<path d="M69.5 179.94 h2.2 M414.5 179.94 h-2.2"/>
<path d="M69.5 177.61 h2.2 M414.5 177.61 h-2.2"/>
<path d="M69.5 175.54 h2.2 M414.5 175.54 h-2.2"/>
<path d="M69.5 173.70 h3.8 M414.5 173.70 h-3.8"/>
<path d="M69.5 161.57 h2.2 M414.5 161.57 h-2.2"/>
<path d="M69.5 154.47 h2.2 M414.5 154.47 h-2.2"/>
<path d="M69.5 149.44 h2.2 M414.5 149.44 h-2.2"/>
<path d="M69.5 145.53 h2.2 M414.5 145.53 h-2.2"/>
<path d="M69.5 142.34 h2.2 M414.5 142.34 h-2.2"/>
<path d="M69.5 139.64 h2.2 M414.5 139.64 h-2.2"/>
<path d="M69.5 137.31 h2.2 M414.5 137.31 h-2.2"/>
<path d="M69.5 135.24 h2.2 M414.5 135.24 h-2.2"/>
<path d="M69.5 133.40 h3.8 M414.5 133.40 h-3.8"/>
<path d="M69.5 121.27 h2.2 M414.5 121.27 h-2.2"/>
<path d="M69.5 114.17 h2.2 M414.5 114.17 h-2.2"/>
<path d="M69.5 109.14 h2.2 M414.5 109.14 h-2.2"/>
<path d="M69.5 105.23 h2.2 M414.5 105.23 h-2.2"/>
<path d="M69.5 102.04 h2.2 M414.5 102.04 h-2.2"/>
<path d="M69.5 99.34 h2.2 M414.5 99.34 h-2.2"/>
<path d="M69.5 97.01 h2.2 M414.5 97.01 h-2.2"/>
<path d="M69.5 94.94 h2.2 M414.5 94.94 h-2.2"/>
<path d="M69.5 93.10 h3.8 M414.5 93.10 h-3.8"/>
<path d="M69.5 80.97 h2.2 M414.5 80.97 h-2.2"/>
<path d="M69.5 73.87 h2.2 M414.5 73.87 h-2.2"/>
<path d="M69.5 68.84 h2.2 M414.5 68.84 h-2.2"/>
<path d="M69.5 64.93 h2.2 M414.5 64.93 h-2.2"/>
<path d="M69.5 61.74 h2.2 M414.5 61.74 h-2.2"/>
<path d="M69.5 59.04 h2.2 M414.5 59.04 h-2.2"/>
<path d="M69.5 56.71 h2.2 M414.5 56.71 h-2.2"/>
<path d="M69.5 54.64 h2.2 M414.5 54.64 h-2.2"/>
<path d="M69.5 52.80 h3.8 M414.5 52.80 h-3.8"/>
<path d="M69.5 40.67 h2.2 M414.5 40.67 h-2.2"/>
<path d="M69.5 33.57 h2.2 M414.5 33.57 h-2.2"/>
<path d="M69.5 28.54 h2.2 M414.5 28.54 h-2.2"/>
<path d="M69.5 24.63 h2.2 M414.5 24.63 h-2.2"/>
<path d="M69.5 21.44 h2.2 M414.5 21.44 h-2.2"/>
<path d="M69.5 18.74 h2.2 M414.5 18.74 h-2.2"/>
<path d="M69.5 16.41 h2.2 M414.5 16.41 h-2.2"/>
<path d="M69.5 14.34 h2.2 M414.5 14.34 h-2.2"/>
<path d="M69.5 12.50 h3.8 M414.5 12.50 h-3.8"/>
</g>
<text x="27.7" y="18.600000000000016" font-size="15.6" text-anchor="start" fill="#5f5f5f" font-family="Liberation Sans, sans-serif" textLength="37.8" lengthAdjust="spacingAndGlyphs" >0.100</text>
<text x="27.7" y="58.90000000000001" font-size="15.6" text-anchor="start" fill="#5f5f5f" font-family="Liberation Sans, sans-serif" textLength="37.8" lengthAdjust="spacingAndGlyphs" >0.010</text>
<text x="27.7" y="99.7" font-size="15.6" text-anchor="start" fill="#5f5f5f" font-family="Liberation Sans, sans-serif" textLength="37.8" lengthAdjust="spacingAndGlyphs" >0.001</text>
<text x="37.6" y="139.8" font-size="15.6" text-anchor="start" fill="#5f5f5f" font-family="Liberation Sans, sans-serif" textLength="16.5" lengthAdjust="spacingAndGlyphs" >10</text>
<text x="55.0" y="132.60000000000002" font-size="11.5" text-anchor="start" fill="#5f5f5f" font-family="Liberation Sans, sans-serif" textLength="11.8" lengthAdjust="spacingAndGlyphs" >−4</text>
<text x="37.6" y="180.1" font-size="15.6" text-anchor="start" fill="#5f5f5f" font-family="Liberation Sans, sans-serif" textLength="16.5" lengthAdjust="spacingAndGlyphs" >10</text>
<text x="55.0" y="172.9" font-size="11.5" text-anchor="start" fill="#5f5f5f" font-family="Liberation Sans, sans-serif" textLength="11.8" lengthAdjust="spacingAndGlyphs" >−5</text>
<text x="37.6" y="220.4" font-size="15.6" text-anchor="start" fill="#5f5f5f" font-family="Liberation Sans, sans-serif" textLength="16.5" lengthAdjust="spacingAndGlyphs" >10</text>
<text x="55.0" y="213.20000000000002" font-size="11.5" text-anchor="start" fill="#5f5f5f" font-family="Liberation Sans, sans-serif" textLength="11.8" lengthAdjust="spacingAndGlyphs" >−6</text>
<text x="65.275" y="233.8" font-size="15.6" text-anchor="start" fill="#5f5f5f" font-family="Liberation Sans, sans-serif" textLength="8.45" lengthAdjust="spacingAndGlyphs" >0</text>
<text x="151.525" y="233.8" font-size="15.6" text-anchor="start" fill="#5f5f5f" font-family="Liberation Sans, sans-serif" textLength="8.45" lengthAdjust="spacingAndGlyphs" >5</text>
<text x="233.55" y="233.8" font-size="15.6" text-anchor="start" fill="#5f5f5f" font-family="Liberation Sans, sans-serif" textLength="16.9" lengthAdjust="spacingAndGlyphs" >10</text>
<text x="319.8" y="233.8" font-size="15.6" text-anchor="start" fill="#5f5f5f" font-family="Liberation Sans, sans-serif" textLength="16.9" lengthAdjust="spacingAndGlyphs" >15</text>
<text x="406.05" y="233.8" font-size="15.6" text-anchor="start" fill="#5f5f5f" font-family="Liberation Sans, sans-serif" textLength="16.9" lengthAdjust="spacingAndGlyphs" >20</text>
<text x="219.8" y="260.1" font-size="16" text-anchor="start" fill="#5f5f5f" font-family="Liberation Sans, sans-serif" textLength="6" lengthAdjust="spacingAndGlyphs" font-style="italic">τ</text>
<text x="226.3" y="260.1" font-size="16" text-anchor="start" fill="#5f5f5f" font-family="Liberation Sans, sans-serif" >,</text>
<text x="235.4" y="260.1" font-size="16" text-anchor="start" fill="#5f5f5f" font-family="Liberation Sans, sans-serif" textLength="17.6" lengthAdjust="spacingAndGlyphs" >eV</text>
<text x="253.2" y="253.0" font-size="11" text-anchor="start" fill="#5f5f5f" font-family="Liberation Sans, sans-serif" textLength="11.2" lengthAdjust="spacingAndGlyphs" >−1</text>
<g transform="translate(21.0,149.2) rotate(-90)">
<text x="0" y="-3.6" font-size="16" text-anchor="start" fill="#5f5f5f" font-family="Liberation Sans, sans-serif" textLength="83.4" lengthAdjust="spacingAndGlyphs" >|ΔG(<tspan font-style="italic">τ</tspan>)/G(<tspan font-style="italic">τ</tspan>)|</text>
</g>
<line x1="244" y1="40.0" x2="258" y2="40.0" stroke="#08a812" stroke-width="1.6"/>
<text x="267" y="42.7" font-size="10" font-weight="bold" fill="#5c5c5c" font-family="Liberation Sans, sans-serif" textLength="27.5" lengthAdjust="spacingAndGlyphs">Static</text>
<line x1="221.3" y1="50.6" x2="234.7" y2="50.6" stroke="#ff8000" stroke-width="1.6"/>
<text x="244.5" y="53.300000000000004" font-size="10" font-weight="bold" fill="#5c5c5c" font-family="Liberation Sans, sans-serif" textLength="73.5" lengthAdjust="spacingAndGlyphs">RTA,1/<tspan font-style="italic">τ</tspan>=6 meV</text>
<line x1="219.5" y1="61.3" x2="233" y2="61.3" stroke="#0000ff" stroke-width="1.6"/>
<text x="242.5" y="64.0" font-size="10" font-weight="bold" fill="#5c5c5c" font-family="Liberation Sans, sans-serif" textLength="75.5" lengthAdjust="spacingAndGlyphs">Ex.Diag.,NM=10</text>
<line x1="219.5" y1="72.0" x2="233" y2="72.0" stroke="#ff0000" stroke-width="1.6"/>
<text x="242.5" y="74.7" font-size="10" font-weight="bold" fill="#5c5c5c" font-family="Liberation Sans, sans-serif" textLength="75.5" lengthAdjust="spacingAndGlyphs">Ex.Diag.,NM=14</text>
<line x1="236.2" y1="82.6" x2="249.4" y2="82.6" stroke="#00ffff" stroke-width="1.6"/>
<text x="259.3" y="85.3" font-size="10" font-weight="bold" fill="#5c5c5c" font-family="Liberation Sans, sans-serif" textLength="43.2" lengthAdjust="spacingAndGlyphs">Pheno fit</text>
</svg>
</body></html>
